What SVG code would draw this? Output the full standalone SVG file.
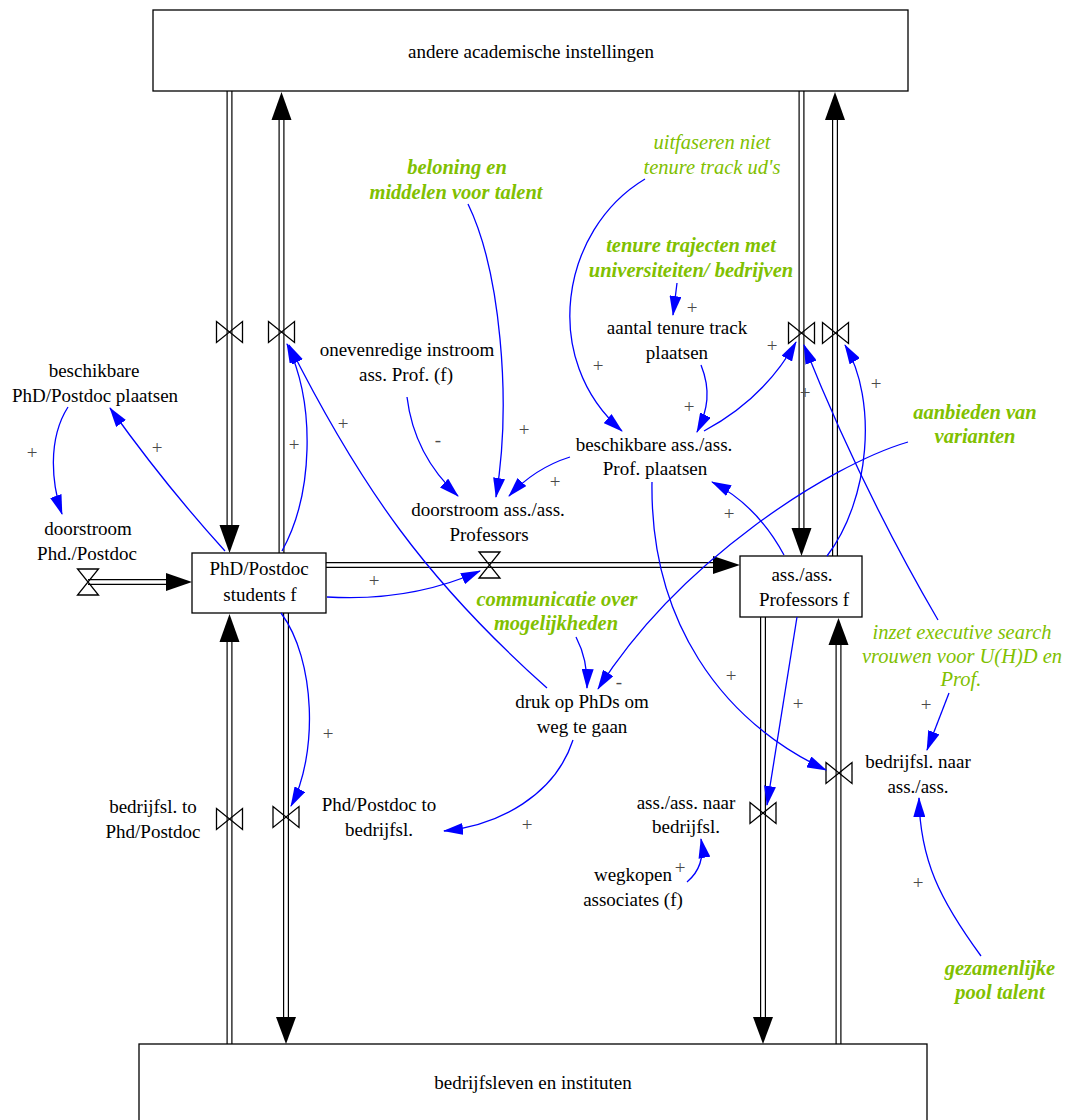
<svg xmlns="http://www.w3.org/2000/svg" width="1068" height="1120" viewBox="0 0 1068 1120">
  <defs>
    <style>
      .t { font-family: "Liberation Serif", "Times New Roman", serif; font-size: 19px; fill: #000; text-anchor: middle; }
      .g { font-family: "Liberation Serif", "Times New Roman", serif; font-size: 20.5px; fill: #80c000; text-anchor: middle; font-style: italic; font-weight: bold; }
      .gi { font-family: "Liberation Serif", "Times New Roman", serif; font-size: 20.5px; fill: #80c000; text-anchor: middle; font-style: italic; }
      .p { font-family: "Liberation Serif", "Times New Roman", serif; font-size: 19px; fill: #4a4a4a; text-anchor: middle; }
      .box { fill: #fff; stroke: #000; stroke-width: 1.3; }
      .po { fill: none; stroke: #000; stroke-width: 6; }
      .pi { fill: none; stroke: #fff; stroke-width: 3.6; }
      .head { fill: #000; }
      .valve { fill: none; stroke: #000; stroke-width: 1.3; stroke-linejoin: miter; }
      .lk { fill: none; stroke: #0000ff; stroke-width: 1.3; marker-end: url(#ah); }
    </style>
    <marker id="ah" viewBox="0 0 20 12" refX="19" refY="6" markerWidth="20" markerHeight="12" markerUnits="userSpaceOnUse" orient="auto">
      <path d="M0,0 L20,6 L0,12 Z" fill="#0000ff"/>
    </marker>
  </defs>
  <rect width="1068" height="1120" fill="#fff"/>

  <!-- material flows (double-line pipes) -->
  <g id="pipes">
    <g class="po">
      <path d="M229.5,91 V530"/>
      <path d="M281.5,553 V115"/>
      <path d="M229.5,1044 V637"/>
      <path d="M286,613 V1022"/>
      <path d="M801.5,91 V533"/>
      <path d="M835,556 V115"/>
      <path d="M763,617 V1022"/>
      <path d="M838.5,1044 V640"/>
      <path d="M88,582 H171"/>
      <path d="M326,565 H718"/>
    </g>
    <g class="pi">
      <path d="M229.5,91 V530"/>
      <path d="M281.5,553 V115"/>
      <path d="M229.5,1044 V637"/>
      <path d="M286,613 V1022"/>
      <path d="M801.5,91 V533"/>
      <path d="M835,556 V115"/>
      <path d="M763,617 V1022"/>
      <path d="M838.5,1044 V640"/>
      <path d="M88,582 H171"/>
      <path d="M326,565 H718"/>
    </g>
    <g class="head">
      <polygon points="219.5,525 239.5,525 229.5,553"/>
      <polygon points="271.5,120 291.5,120 281.5,92"/>
      <polygon points="219.5,642 239.5,642 229.5,614"/>
      <polygon points="276,1017 296,1017 286,1044"/>
      <polygon points="791.5,528 811.5,528 801.5,556"/>
      <polygon points="825,120 845,120 835,92"/>
      <polygon points="753,1017 773,1017 763,1044"/>
      <polygon points="828.5,645 848.5,645 838.5,618"/>
      <polygon points="166,573 166,591 192,582"/>
      <polygon points="713,556 713,574 740,565"/>
    </g>
  </g>

  <!-- stocks and sources/sinks -->
  <g id="andere-academische-instellingen">
    <rect class="box" x="153" y="10" width="755" height="81"/>
    <text class="t" x="531" y="58">andere academische instellingen</text>
  </g>
  <g id="bedrijfsleven-en-instituten">
    <rect class="box" x="139" y="1044" width="788" height="100"/>
    <text class="t" x="533" y="1089">bedrijfsleven en instituten</text>
  </g>
  <g id="phd-postdoc-students">
    <rect class="box" x="192" y="553" width="134" height="60"/>
    <text class="t" x="259" y="575">PhD/Postdoc</text>
    <text class="t" x="260" y="601">students f</text>
  </g>
  <g id="ass-professors">
    <rect class="box" x="740" y="556" width="122" height="61"/>
    <text class="t" x="802" y="581">ass./ass.</text>
    <text class="t" x="804" y="606">Professors f</text>
  </g>

  <!-- flow valves with their rate names -->
  <g id="valve-uitstroom-phd-academisch">
    <path class="valve" d="M216.5,321.5 L242.5,342.5 L242.5,321.5 L216.5,342.5 Z"/>
  </g>
  <g id="valve-instroom-phd-academisch">
    <path class="valve" d="M268.5,321.5 L294.5,342.5 L294.5,321.5 L268.5,342.5 Z"/>
  </g>
  <g id="bedrijfsl-to-phd-postdoc">
    <path class="valve" d="M216.5,808.5 L242.5,829.5 L242.5,808.5 L216.5,829.5 Z"/>
    <text class="t" x="153" y="813">bedrijfsl. to</text>
    <text class="t" x="153" y="838">Phd/Postdoc</text>
  </g>
  <g id="phd-postdoc-to-bedrijfsl">
    <path class="valve" d="M273,806.5 L299,827.5 L299,806.5 L273,827.5 Z"/>
    <text class="t" x="379" y="811">Phd/Postdoc to</text>
    <text class="t" x="379" y="836">bedrijfsl.</text>
  </g>
  <g id="valve-instroom-ass-academisch">
    <path class="valve" d="M788.5,322.5 L814.5,343.5 L814.5,322.5 L788.5,343.5 Z"/>
  </g>
  <g id="valve-uitstroom-ass-academisch">
    <path class="valve" d="M822.5,322.5 L848.5,343.5 L848.5,322.5 L822.5,343.5 Z"/>
  </g>
  <g id="ass-naar-bedrijfsl">
    <path class="valve" d="M750,802.5 L776,823.5 L776,802.5 L750,823.5 Z"/>
    <text class="t" x="686" y="809">ass./ass. naar</text>
    <text class="t" x="686" y="833">bedrijfsl.</text>
  </g>
  <g id="bedrijfsl-naar-ass">
    <path class="valve" d="M826,762.5 L852,783.5 L852,762.5 L826,783.5 Z"/>
    <text class="t" x="918" y="768">bedrijfsl. naar</text>
    <text class="t" x="918" y="793">ass./ass.</text>
  </g>
  <g id="doorstroom-phd-postdoc">
    <path class="valve" d="M77.5,569 L98.5,569 L77.5,595 L98.5,595 Z"/>
    <text class="t" x="88" y="535">doorstroom</text>
    <text class="t" x="87" y="560">Phd./Postdoc</text>
  </g>
  <g id="doorstroom-ass-professors">
    <path class="valve" d="M479,552 L500,552 L479,578 L500,578 Z"/>
    <text class="t" x="488" y="516">doorstroom ass./ass.</text>
    <text class="t" x="489" y="541">Professors</text>
  </g>

  <!-- auxiliary variables -->
  <g id="beschikbare-phd-postdoc-plaatsen">
    <text class="t" x="94" y="377">beschikbare</text>
    <text class="t" x="95" y="402">PhD/Postdoc plaatsen</text>
  </g>
  <g id="onevenredige-instroom">
    <text class="t" x="407" y="356">onevenredige instroom</text>
    <text class="t" x="406" y="381">ass. Prof. (f)</text>
  </g>
  <g id="aantal-tenure-track-plaatsen">
    <text class="t" x="677" y="334">aantal tenure track</text>
    <text class="t" x="677" y="359">plaatsen</text>
  </g>
  <g id="beschikbare-ass-prof-plaatsen">
    <text class="t" x="654" y="451">beschikbare ass./ass.</text>
    <text class="t" x="655" y="475">Prof. plaatsen</text>
  </g>
  <g id="druk-op-phds">
    <text class="t" x="582" y="708">druk op PhDs om</text>
    <text class="t" x="582" y="733">weg te gaan</text>
  </g>
  <g id="wegkopen-associates">
    <text class="t" x="633" y="881">wegkopen</text>
    <text class="t" x="633" y="906">associates (f)</text>
  </g>

  <!-- policy levers -->
  <g id="beloning-en-middelen">
    <text class="g" x="457" y="174">beloning en</text>
    <text class="g" x="456" y="199">middelen voor talent</text>
  </g>
  <g id="uitfaseren-niet-tenure-track">
    <text class="gi" x="712" y="149">uitfaseren niet</text>
    <text class="gi" x="712" y="174">tenure track ud's</text>
  </g>
  <g id="tenure-trajecten">
    <text class="g" x="691" y="252">tenure trajecten met</text>
    <text class="g" x="691" y="277">universiteiten/ bedrijven</text>
  </g>
  <g id="aanbieden-van-varianten">
    <text class="g" x="975" y="419">aanbieden van</text>
    <text class="g" x="975" y="443">varianten</text>
  </g>
  <g id="communicatie-over-mogelijkheden">
    <text class="g" x="557" y="606">communicatie over</text>
    <text class="g" x="556" y="630">mogelijkheden</text>
  </g>
  <g id="inzet-executive-search">
    <text class="gi" x="962" y="639">inzet executive search</text>
    <text class="gi" x="962" y="663">vrouwen voor U(H)D en</text>
    <text class="gi" x="961" y="686">Prof.</text>
  </g>
  <g id="gezamenlijke-pool-talent">
    <text class="g" x="1000" y="975">gezamenlijke</text>
    <text class="g" x="1000" y="999">pool talent</text>
  </g>

  <!-- causal links with polarity -->
  <g id="connectors">
    <g class="p">
      <text x="32" y="459">+</text>
      <text x="157" y="454">+</text>
      <text x="294" y="451">+</text>
      <text x="343" y="430">+</text>
      <text x="438" y="446">-</text>
      <text x="524" y="436">+</text>
      <text x="555" y="488">+</text>
      <text x="374" y="587">+</text>
      <text x="598" y="372">+</text>
      <text x="692" y="314">+</text>
      <text x="689" y="413">+</text>
      <text x="772" y="352">+</text>
      <text x="805" y="399">+</text>
      <text x="876" y="390">+</text>
      <text x="729" y="520">+</text>
      <text x="605" y="677">-</text>
      <text x="619" y="688">-</text>
      <text x="731" y="682">+</text>
      <text x="798" y="710">+</text>
      <text x="926" y="711">+</text>
      <text x="328" y="740">+</text>
      <text x="527" y="831">+</text>
      <text x="680" y="874">+</text>
      <text x="918" y="889">+</text>
    </g>
    <path class="lk" d="M68,407 C47,440 52,485 62,514"/>
    <path class="lk" d="M225,551 Q165,485 110,408"/>
    <path class="lk" d="M282,551 C313,495 316,405 287,344"/>
    <path class="lk" d="M547,688 C427,581 361,488 289,345"/>
    <path class="lk" d="M327,597 Q410,602 480,571"/>
    <path class="lk" d="M281,613 C316,660 318,755 291,806"/>
    <path class="lk" d="M407,397 Q414,455 458,496"/>
    <path class="lk" d="M468,204 C500,270 512,400 496,497"/>
    <path class="lk" d="M570,457 Q535,468 509,496"/>
    <path class="lk" d="M645,179 C560,230 540,360 622,431"/>
    <path class="lk" d="M677,283 Q675,300 673,315"/>
    <path class="lk" d="M701,365 C711,390 708,410 697,432"/>
    <path class="lk" d="M704,431 Q765,398 796,342"/>
    <path class="lk" d="M938,620 Q862,490 804,345"/>
    <path class="lk" d="M827,556 C870,500 878,400 845,345"/>
    <path class="lk" d="M784,555 Q757,505 712,482"/>
    <path class="lk" d="M908,442 C830,465 680,560 598,689"/>
    <path class="lk" d="M576,637 Q588,660 587,688"/>
    <path class="lk" d="M573,740 C555,795 500,825 444,831"/>
    <path class="lk" d="M652,482 C650,620 720,720 826,770"/>
    <path class="lk" d="M797,617 L767,805"/>
    <path class="lk" d="M949,693 L927,750"/>
    <path class="lk" d="M981,956 C940,900 920,860 919,798"/>
    <path class="lk" d="M687,882 Q706,866 701,839"/>
  </g>
</svg>
